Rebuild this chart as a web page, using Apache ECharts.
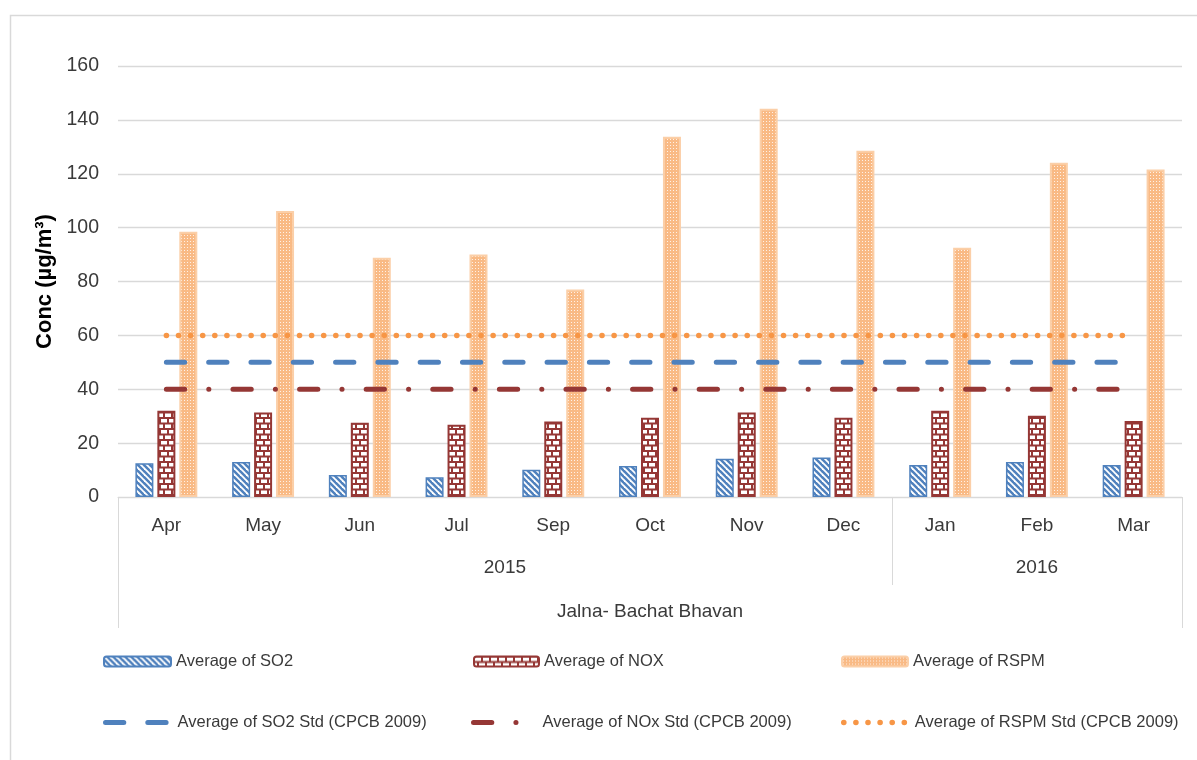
<!DOCTYPE html>
<html><head><meta charset="utf-8">
<script src="https://cdn.jsdelivr.net/npm/echarts@6/dist/echarts.min.js"></script>
<style>html,body{margin:0;padding:0;background:#fff}#c{width:1197px;height:760px}</style>
</head><body><div id="c"></div>
<script>
// ---- data ----
const months = ['Apr','May','Jun','Jul','Sep','Oct','Nov','Dec','Jan','Feb','Mar'];
const yearLabels = ['2015','2016'];
const yearSpans = [8, 3];
const stationName = 'Jalna- Bachat Bhavan';
const so2 = [12.5, 13.0, 8.2, 7.3, 10.1, 11.5, 14.2, 14.7, 11.9, 13.0, 11.9];
const nox = [32.0, 31.4, 27.6, 26.8, 28.0, 29.4, 31.4, 29.4, 32.0, 30.2, 28.2];
const rspm = [98.5, 106.2, 88.8, 90.0, 77.0, 133.7, 144.1, 128.5, 92.5, 124.1, 121.6];
const so2Std = [50, 50, 50, 50, 50, 50, 50, 50, 50, 50, 50];
const noxStd = [40, 40, 40, 40, 40, 40, 40, 40, 40, 40, 40];
const rspmStd = [60, 60, 60, 60, 60, 60, 60, 60, 60, 60, 60];
const seriesNames = ['Average of SO2','Average of NOX','Average of RSPM',
  'Average of SO2 Std (CPCB 2009)','Average of NOx Std (CPCB 2009)','Average of RSPM Std (CPCB 2009)'];
const yTicks = {min: 0, max: 160, interval: 20};

// ---- patterns ----
function makePattern(w, h, draw) {
  const c = document.createElement('canvas');
  c.width = w; c.height = h;
  const ctx = c.getContext('2d');
  draw(ctx, w, h);
  return {image: c, repeat: 'repeat'};
}
const BLUE = '#4F81BD', RED = '#953735', ORANGE = '#F79646';
const so2Pat = makePattern(6, 6, (ctx, w, h) => {
  ctx.fillStyle = BLUE; ctx.fillRect(0, 0, w, h);
  ctx.strokeStyle = '#ffffff'; ctx.lineWidth = 1.8;
  for (let x0 = -6; x0 <= 6; x0 += 6) {
    ctx.beginPath(); ctx.moveTo(x0 - 1, -1); ctx.lineTo(x0 + 7, 7); ctx.stroke();
  }
});
const noxPat = makePattern(16, 11, (ctx, w, h) => {
  ctx.fillStyle = RED; ctx.fillRect(0, 0, w, h);
  ctx.fillStyle = '#ffffff';
  ctx.fillRect(1, 1, 6, 3.5); ctx.fillRect(9, 1, 6, 3.5);
  ctx.fillRect(5, 6.5, 6, 3.5); ctx.fillRect(13, 6.5, 3, 3.5); ctx.fillRect(0, 6.5, 3, 3.5);
});
const rspmPat = makePattern(3, 3, (ctx, w, h) => {
  ctx.fillStyle = '#F9BA85'; ctx.fillRect(0, 0, w, h);
  ctx.fillStyle = 'rgba(255,255,255,0.8)'; ctx.fillRect(1, 1, 1, 1);
});

const FONT = "'Liberation Sans','Arial',sans-serif";
const TXT = '#3A3A3A';
const GRAYLINE = '#D9D9D9';

// year axis positions derived from spans
const yearCenters = [], yearBounds = [];
let acc = 0;
yearSpans.forEach((s, i) => { yearCenters.push(acc + s / 2); acc += s; if (i < yearSpans.length - 1) yearBounds.push(acc); });
const total = months.length;

const lineDash = [[18.3, 24], [18.3, 24.1, 0.1, 24.1], [0.1, 12.0]];
const lineColors = [BLUE, RED, ORANGE];
const lineWidths = [5, 5, 5.5];

const legendPos = [
  {left: 103, top: 653, w: 67}, {left: 473, top: 653, w: 65}, {left: 841, top: 653, w: 66},
  {left: 103, top: 714, w: 67}, {left: 471, top: 714, w: 64}, {left: 841, top: 714, w: 66}
];

const chart = echarts.init(document.getElementById('c'), null, {renderer: 'canvas'});
chart.setOption({
  backgroundColor: '#ffffff',
  animation: false,
  textStyle: {fontFamily: FONT},
  grid: {left: 118, right: 15, top: 66, bottom: 263, containLabel: false, outerBoundsMode: 'none'},
  legend: legendPos.map((p, i) => {
    const lg = {
      data: [seriesNames[i]], left: p.left, top: p.top, padding: 0,
      itemWidth: p.w, itemHeight: 10, selectedMode: false,
      textStyle: {fontFamily: FONT, fontSize: 16.5, color: TXT}
    };
    if (i >= 3) {
      const k = i - 3;
      lg.itemStyle = {opacity: 0};
      lg.lineStyle = {width: lineWidths[k], type: lineDash[k], cap: 'round', color: lineColors[k]};
    }
    return lg;
  }),
  xAxis: [
    {
      type: 'category', data: months, position: 'bottom',
      axisLine: {show: true, lineStyle: {color: GRAYLINE, width: 1}},
      axisTick: {show: false},
      axisLabel: {fontFamily: FONT, fontSize: 19, color: TXT, margin: 19}
    },
    {
      type: 'value', min: 0, max: total, position: 'bottom',
      axisLine: {show: false}, splitLine: {show: false},
      axisTick: {show: true, customValues: yearBounds, length: 88, lineStyle: {color: GRAYLINE, width: 1}},
      axisLabel: {
        customValues: yearCenters, fontFamily: FONT, fontSize: 19, color: TXT, margin: 61,
        formatter: v => { const k = yearCenters.findIndex(c => Math.abs(c - v) < 1e-6); return k >= 0 ? yearLabels[k] : ''; }
      }
    },
    {
      type: 'value', min: 0, max: total, position: 'bottom',
      axisLine: {show: false}, splitLine: {show: false},
      axisTick: {show: true, customValues: [0, total], length: 131, lineStyle: {color: GRAYLINE, width: 1}},
      axisLabel: {
        customValues: [total / 2], fontFamily: FONT, fontSize: 19, color: TXT, margin: 105,
        formatter: () => stationName
      }
    }
  ],
  yAxis: {
    type: 'value', min: yTicks.min, max: yTicks.max, interval: yTicks.interval,
    name: 'Conc (µg/m³)', nameLocation: 'middle', nameGap: 62, nameRotate: 90,
    nameTextStyle: {fontFamily: FONT, fontSize: 22, fontWeight: 'bold', color: '#000'},
    axisLine: {show: false}, axisTick: {show: false},
    splitLine: {lineStyle: {color: GRAYLINE, width: 1.3}},
    axisLabel: {fontFamily: FONT, fontSize: 19.5, color: TXT, margin: 19}
  },
  graphic: [{
    type: 'rect', left: 8, top: 13, z: -10, silent: true,
    shape: {width: 1300, height: 900},
    style: {fill: 'none', stroke: GRAYLINE, lineWidth: 1.5}
  }],
  series: [
    {name: seriesNames[0], type: 'bar', data: so2, barWidth: 18, barGap: '22%',
      itemStyle: {color: so2Pat, borderColor: BLUE, borderWidth: 1.5}},
    {name: seriesNames[1], type: 'bar', data: nox, barWidth: 18, barGap: '22%',
      itemStyle: {color: noxPat, borderColor: RED, borderWidth: 2}},
    {name: seriesNames[2], type: 'bar', data: rspm, barWidth: 18, barGap: '22%',
      itemStyle: {color: rspmPat, borderColor: '#FBCFA8', borderWidth: 2}},
    {name: seriesNames[3], type: 'line', data: so2Std, symbol: 'none', z: 5,
      itemStyle: {color: lineColors[0]},
      lineStyle: {color: lineColors[0], width: lineWidths[0], cap: 'round', type: lineDash[0]}},
    {name: seriesNames[4], type: 'line', data: noxStd, symbol: 'none', z: 5,
      itemStyle: {color: lineColors[1]},
      lineStyle: {color: lineColors[1], width: lineWidths[1], cap: 'round', type: lineDash[1]}},
    {name: seriesNames[5], type: 'line', data: rspmStd, symbol: 'none', z: 5,
      itemStyle: {color: lineColors[2]},
      lineStyle: {color: lineColors[2], width: lineWidths[2], cap: 'round', type: lineDash[2]}}
  ]
});
</script>
</body></html>
